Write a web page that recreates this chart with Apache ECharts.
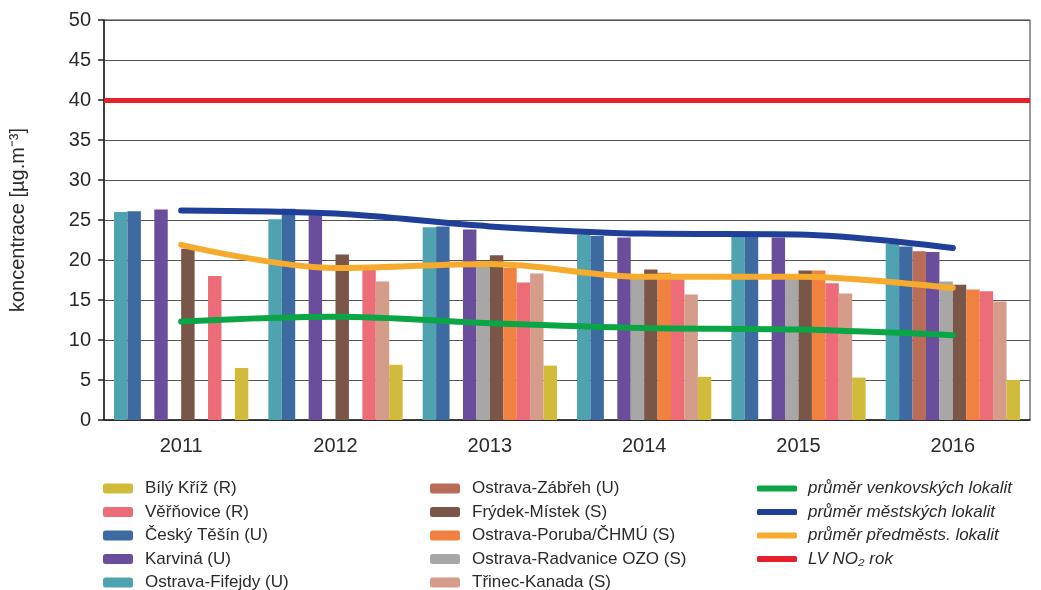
<!DOCTYPE html>
<html>
<head>
<meta charset="utf-8">
<script src="https://cdn.jsdelivr.net/npm/echarts@6/dist/echarts.min.js"></script>
<style>
  html, body { margin: 0; padding: 0; background: #fff; }
  #chart { width: 1041px; height: 590px; }
</style>
</head>
<body>
<div id="chart"></div>
<script>
// categories
var years = ["2011", "2012", "2013", "2014", "2015", "2016"];

// station annual means (null = no measurement)
var fifejdy   = [26.0, 25.1, 24.1, 23.2, 23.0, 22.0];
var tesin     = [26.1, 26.4, 24.2, 23.0, 22.9, 21.7];
var zabreh    = [null, null, null, null, null, 21.1];
var karvina   = [26.3, 25.6, 23.8, 22.8, 22.8, 21.0];
var radvanice = [null, null, 19.4, 18.0, 17.9, 17.3];
var frydek    = [21.4, 20.7, 20.6, 18.8, 18.7, 16.9];
var poruba    = [null, null, 19.0, 18.4, 18.7, 16.3];
var verovice  = [18.0, 18.8, 17.2, 17.6, 17.1, 16.1];
var trinec    = [null, 17.3, 18.3, 15.7, 15.8, 14.8];
var bilyKriz  = [6.5, 6.9, 6.8, 5.4, 5.3, 5.0];

// averages
var avgRural    = [12.3, 12.9, 12.1, 11.5, 11.3, 10.6];
var avgUrban    = [26.2, 25.8, 24.2, 23.3, 23.2, 21.5];
var avgSuburban = [21.9, 19.0, 19.5, 17.9, 17.9, 16.5];

// limit value
var limitValue = 40;

var chart = echarts.init(document.getElementById("chart"));

var font = "Liberation Sans, Arial, sans-serif";

function bar(name, data, color) {
  return {
    name: name,
    type: "bar",
    data: data,
    barGap: "0%",
    barCategoryGap: "13%",
    itemStyle: { color: color },
  };
}

function line(name, data, color) {
  return {
    name: name,
    type: "line",
    data: data,
    smooth: 0.35,
    symbol: "none",
    z: 5,
    lineStyle: { color: color, width: 6, cap: "round" },
    itemStyle: { color: color },
  };
}

var legendText = {
  fontFamily: font,
  fontSize: 17,
  color: "#2a2a2a",
  padding: [0, 0, 0, 7],
};

function legendCol(left, names, extra) {
  return Object.assign({
    orient: "vertical",
    left: left,
    top: 480,
    height: 140,
    padding: 0,
    itemWidth: 30,
    itemHeight: 10,
    itemGap: 6.5,
    textStyle: legendText,
    data: names,
  }, extra || {});
}

var option = {
  animation: false,
  grid: {
    left: 103,
    right: 11,
    top: 20,
    bottom: 170,
    show: true,
    borderColor: "#333",
    borderWidth: 1,
  },
  xAxis: {
    type: "category",
    data: years,
    axisLine: { lineStyle: { color: "#222", width: 1.5 } },
    axisTick: { length: 7, lineStyle: { color: "#222", width: 1.5 } },
    axisLabel: { fontFamily: font, fontSize: 20, color: "#2a2a2a", margin: 16 },
  },
  yAxis: {
    type: "value",
    min: 0,
    max: 50,
    interval: 5,
    name: "koncentrace [µg.m⁻³]",
    nameLocation: "middle",
    nameGap: 76,
    nameTextStyle: { fontFamily: font, fontSize: 20, color: "#2a2a2a" },
    axisLine: { show: true, lineStyle: { color: "#222", width: 1.5 } },
    axisTick: { show: true, length: 6, lineStyle: { color: "#222", width: 1.5 } },
    axisLabel: { fontFamily: font, fontSize: 20, color: "#2a2a2a", margin: 13 },
    splitLine: { lineStyle: { color: "#555", width: 1.2 } },
  },
  legend: [
    legendCol(103, ["Bílý Kříž (R)", "Věřňovice (R)", "Český Těšín (U)", "Karviná (U)", "Ostrava-Fifejdy (U)"]),
    legendCol(430, ["Ostrava-Zábřeh (U)", "Frýdek-Místek (S)", "Ostrava-Poruba/ČHMÚ (S)", "Ostrava-Radvanice OZO (S)", "Třinec-Kanada (S)"]),
    legendCol(757, ["průměr venkovských lokalit", "průměr městských lokalit", "průměr předměsts. lokalit", "LV NO₂ rok"], {
      itemWidth: 40,
      itemHeight: 6,
      icon: "roundRect",
      textStyle: Object.assign({}, legendText, { fontStyle: "italic", padding: [0, 0, 0, 6] }),
    }),
  ],
  series: [
    bar("Ostrava-Fifejdy (U)", fifejdy, "#4fa3b0"),
    bar("Český Těšín (U)", tesin, "#3d6aa0"),
    bar("Ostrava-Zábřeh (U)", zabreh, "#b96c56"),
    bar("Karviná (U)", karvina, "#6b4e9b"),
    bar("Ostrava-Radvanice OZO (S)", radvanice, "#a8a7a6"),
    bar("Frýdek-Místek (S)", frydek, "#7a5648"),
    bar("Ostrava-Poruba/ČHMÚ (S)", poruba, "#f08140"),
    bar("Věřňovice (R)", verovice, "#ec6d77"),
    bar("Třinec-Kanada (S)", trinec, "#d49c89"),
    bar("Bílý Kříž (R)", bilyKriz, "#d1bb3a"),
    line("průměr venkovských lokalit", avgRural, "#0aa544"),
    line("průměr městských lokalit", avgUrban, "#1f3f99"),
    line("průměr předměsts. lokalit", avgSuburban, "#f7ab2e"),
    {
      name: "LV NO₂ rok",
      type: "line",
      data: years.map(function () { return null; }),
      symbol: "none",
      itemStyle: { color: "#e4202a" },
      lineStyle: { color: "#e4202a", width: 5 },
      markLine: {
        silent: true,
        symbol: "none",
        label: { show: false },
        lineStyle: { color: "#e4202a", width: 5, type: "solid" },
        data: [{ yAxis: limitValue }],
      },
    },
  ],
};

chart.setOption(option);
</script>
</body>
</html>
